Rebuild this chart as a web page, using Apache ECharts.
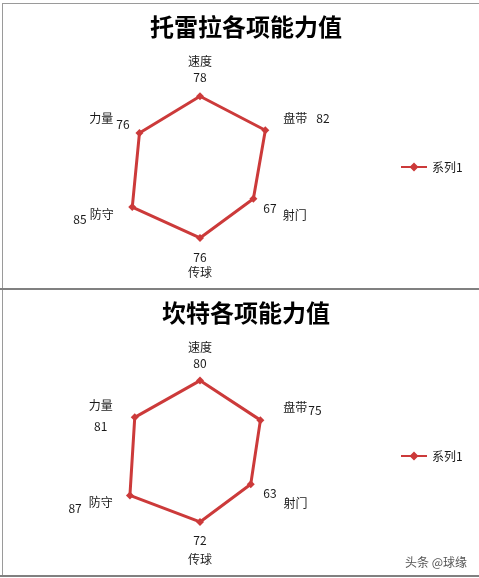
<!DOCTYPE html>
<html>
<head>
<meta charset="utf-8">
<script src="https://cdn.jsdelivr.net/npm/echarts@6/dist/echarts.min.js"></script>
<style>
html,body{margin:0;padding:0;background:#fff;}
#wrap{position:relative;width:479px;height:578px;overflow:hidden;}
#chart{position:absolute;left:0;top:0;width:479px;height:578px;}
.ln{position:absolute;background:#9a9a9a;pointer-events:none;}
</style>
</head>
<body>
<div id="wrap">
<div id="chart"></div>
<div class="ln" style="left:2px;top:3px;width:477px;height:1px;"></div>
<div class="ln" style="left:2px;top:3px;width:1px;height:286px;"></div>
<div class="ln" style="left:0;top:288px;width:479px;height:2px;background:#808080;"></div>
<div class="ln" style="left:2px;top:290px;width:1px;height:286px;"></div>
<div class="ln" style="left:0;top:575px;width:479px;height:2px;background:#808080;"></div>
</div>
<script>
// Categories in ECharts radar order (counter-clockwise from the top)
var categories = ['速度', '力量', '防守', '传球', '射门', '盘带'];
var indicatorMax = 100;
var seriesName = '系列1';
var titleTop = '托雷拉各项能力值';
var titleBottom = '坎特各项能力值';
var torreiraValues = [78, 76, 85, 76, 67, 82];
var kanteValues = [80, 81, 87, 72, 63, 75];
var watermark = '头条 @球缘';

var RED = '#CC3A3A';
var TXT = '#1a1a1a';
var FONT = '"Noto Sans CJK SC", "Noto Sans", sans-serif';

// Label layout (style only): per category, token order and paddings
var layoutTop = {
  '速度': {order: 'nv', sep: '\n', n: {h: 16, p: [0,0,0,0], al: 'center'}, v: {h: 16, p: [0,0,11,0], al: 'center'}},
  '盘带': {order: 'nv', sep: '', n: {h: 16, p: [0,0,28,21]}, v: {h: 16, p: [0,0,28,9]}},
  '射门': {order: 'vn', sep: '', v: {h: 16, p: [16,0,8,1]}, n: {h: 16, p: [23,0,1,6]}},
  '传球': {order: 'vn', sep: '\n', v: {h: 16, p: [9,0,0,0], al: 'center'}, n: {h: 14, p: [0,0,0,0], al: 'center'}},
  '防守': {order: 'vn', sep: '', v: {h: 16, p: [32,3,2,0]}, n: {h: 16, p: [27,24,7,0]}},
  '力量': {order: 'nv', sep: '', n: {h: 16, p: [8,0,36,0]}, v: {h: 16, p: [14,8,30,3]}}
};
var layoutBottom = {
  '速度': {order: 'nv', sep: '\n', n: {h: 16, p: [0,0,0,0], al: 'center'}, v: {h: 16, p: [0,0,11,0], al: 'center'}},
  '盘带': {order: 'nv', sep: '', n: {h: 16, p: [1,0,23,20]}, v: {h: 16, p: [4,0,20,1]}},
  '射门': {order: 'vn', sep: '', v: {h: 16, p: [14,0,10,0]}, n: {h: 16, p: [24,0,0,7]}},
  '传球': {order: 'vn', sep: '\n', v: {h: 16, p: [4,0,0,0], al: 'center'}, n: {h: 16, p: [3,0,0,0], al: 'center'}},
  '防守': {order: 'vn', sep: '', v: {h: 16, p: [34,7,0,0]}, n: {h: 16, p: [28,24,6,0]}},
  '力量': {order: 'nv', sep: '\n', n: {h: 16, p: [0,24,0,0], al: 'center'}, v: {h: 16, p: [5,24,6,0], al: 'center'}}
};

function buildRich(layout) {
  var rich = {};
  categories.forEach(function (c, i) {
    var L = layout[c];
    ['n', 'v'].forEach(function (k) {
      var s = L[k];
      var st = {color: TXT, fontSize: 12, fontFamily: FONT, height: s.h, padding: s.p};
      if (s.al) st.align = s.al;
      rich[k + i] = st;
    });
  });
  return rich;
}
function buildFormatter(layout, values) {
  return function (name) {
    var i = categories.indexOf(name);
    var L = layout[name];
    var n = '{n' + i + '|' + name + '}';
    var v = '{v' + i + '|' + values[i] + '}';
    return L.order === 'nv' ? n + L.sep + v : v + L.sep + n;
  };
}
function buildRadar(center, radius, layout, values) {
  return {
    center: center,
    radius: radius,
    startAngle: 90,
    shape: 'polygon',
    indicator: categories.map(function (c) { return {name: c, min: 0, max: indicatorMax}; }),
    axisNameGap: -20,
    axisName: {
      color: TXT, fontSize: 12, fontFamily: FONT,
      formatter: buildFormatter(layout, values),
      rich: buildRich(layout)
    },
    splitNumber: 5,
    axisLine: {show: false},
    splitLine: {show: false},
    splitArea: {show: false},
    axisTick: {show: false},
    axisLabel: {show: false}
  };
}
function buildSeries(radarIndex, values) {
  return {
    type: 'radar',
    name: seriesName,
    radarIndex: radarIndex,
    symbol: 'diamond',
    symbolSize: 8,
    lineStyle: {color: RED, width: 3},
    itemStyle: {color: RED},
    emphasis: {disabled: true},
    data: [{name: seriesName, value: values}]
  };
}
var legendIcon = 'path://M0,3.4L26,3.4L26,5.6L0,5.6Z M13,0L17.5,4.5L13,9L8.5,4.5Z';
function buildLegend(top) {
  return {
    data: [{name: seriesName, icon: legendIcon}],
    left: 396, top: top,
    itemWidth: 26, itemHeight: 9,
    selectedMode: false,
    textStyle: {color: TXT, fontSize: 12, fontFamily: FONT}
  };
}

var chart = echarts.init(document.getElementById('chart'), null, {renderer: 'canvas'});
chart.setOption({
  animation: false,
  backgroundColor: '#ffffff',
  title: [
    {text: titleTop, left: 241, top: 10, textAlign: 'center',
     textStyle: {fontSize: 24, fontWeight: 'bold', color: '#000', fontFamily: FONT}},
    {text: titleBottom, left: 241, top: 296, textAlign: 'center',
     textStyle: {fontSize: 24, fontWeight: 'bold', color: '#000', fontFamily: FONT}},
    {text: watermark, left: 400, top: 551,
     textStyle: {fontSize: 12, fontWeight: 'normal', color: '#555', fontFamily: FONT}}
  ],
  legend: [buildLegend(156), buildLegend(445)],
  radar: [
    buildRadar([200, 168], 92, layoutTop, torreiraValues),
    buildRadar([200, 455], 93, layoutBottom, kanteValues)
  ],
  series: [buildSeries(0, torreiraValues), buildSeries(1, kanteValues)]
});
</script>
</body>
</html>
